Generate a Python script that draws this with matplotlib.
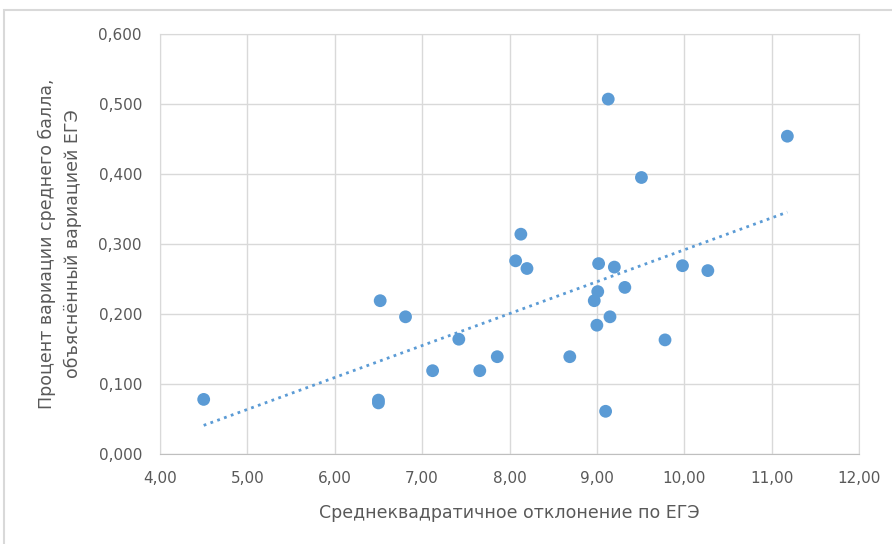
import numpy as np
import matplotlib
matplotlib.use("Agg")
import matplotlib.pyplot as plt
from matplotlib.patches import Rectangle
from matplotlib.ticker import FuncFormatter, MultipleLocator

# ── Data ─────────────────────────────────────────────────────────────
sd_ege = [4.50, 6.52, 6.81, 6.50, 6.50, 7.42, 7.12, 7.66, 7.86, 8.13,
          8.07, 8.20, 9.13, 11.18, 9.51, 9.02, 9.20, 9.98, 10.27, 9.32,
          9.01, 8.97, 9.15, 9.00, 9.78, 8.69, 9.10]
share_var = [0.078, 0.219, 0.196, 0.077, 0.073, 0.164, 0.119, 0.119, 0.139, 0.314,
             0.276, 0.265, 0.507, 0.454, 0.395, 0.272, 0.267, 0.269, 0.262, 0.238,
             0.232, 0.219, 0.196, 0.184, 0.163, 0.139, 0.061]

XLABEL = 'Среднеквадратичное отклонение по ЕГЭ'
YLABEL = 'Процент вариации среднего балла,\nобъяснённый вариацией ЕГЭ'

BLUE = '#5b9bd5'
GRID = '#d9d9d9'
TXT = '#595959'

x = np.array(sd_ege)
y = np.array(share_var)
k, b = np.polyfit(x, y, 1)
xt = np.array([x.min(), x.max()])

fig = plt.figure(figsize=(8.92, 5.44), dpi=100)
fig.patches.append(Rectangle((4/892, -0.5), 2.0, 0.5 + 1 - 10/544,
                             transform=fig.transFigure, fill=False,
                             edgecolor=GRID, lw=1.5))
ax = fig.add_axes([160/892, 1 - 454/544, 699/892, 420/544])

ax.plot(xt, k*xt + b, ls=(0, (1, 1.6)), color=BLUE, lw=2.0, zorder=2)
ax.scatter(x, y, s=85, color=BLUE, edgecolors='none', zorder=3)

ax.set_xlim(4, 12)
ax.set_ylim(0, 0.6)
ax.xaxis.set_major_locator(MultipleLocator(1))
ax.yaxis.set_major_locator(MultipleLocator(0.1))
ax.xaxis.set_major_formatter(FuncFormatter(lambda v, p: f'{v:.2f}'.replace('.', ',')))
ax.yaxis.set_major_formatter(FuncFormatter(lambda v, p: f'{v:.3f}'.replace('.', ',')))
ax.grid(True, color=GRID, lw=1.0, zorder=0)
ax.set_axisbelow(True)
for s in ax.spines.values():
    s.set_color(GRID)
ax.spines['bottom'].set_color('#bfbfbf')
ax.tick_params(length=0, labelsize=11, labelcolor=TXT)
ax.tick_params(axis='x', pad=12)
ax.tick_params(axis='y', pad=13)

ax.set_xlabel(XLABEL, fontsize=12.5, color=TXT, labelpad=13)
ax.set_ylabel(YLABEL, fontsize=12.5, color=TXT, labelpad=12, linespacing=1.55)

plt.savefig('out.png', dpi=100)
plt.close()
